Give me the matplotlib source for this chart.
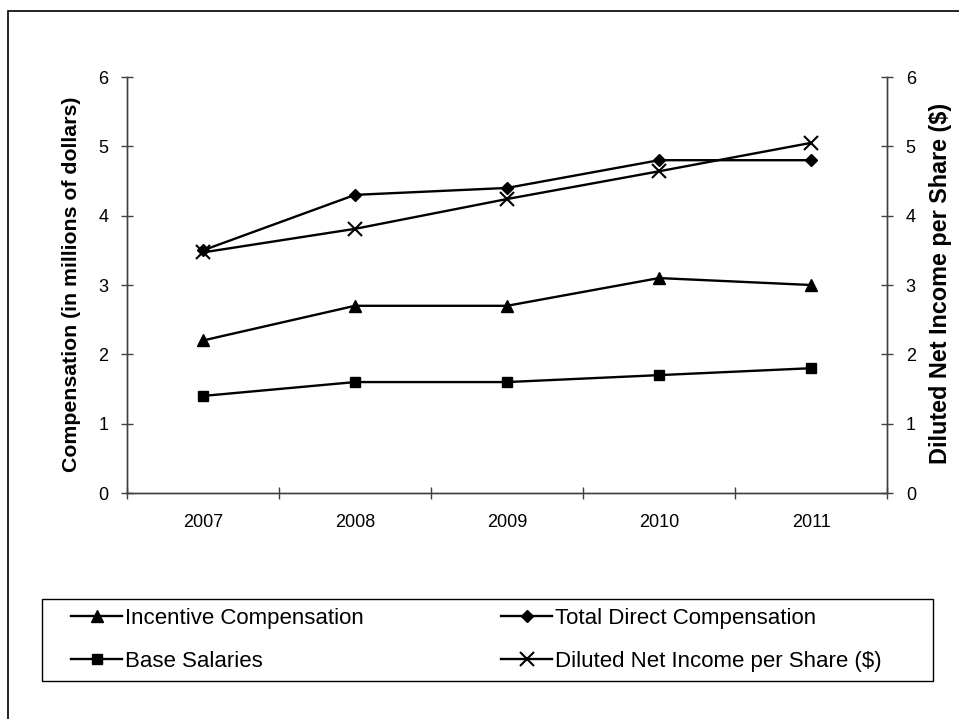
import matplotlib
matplotlib.use("Agg")
import matplotlib.pyplot as plt
from matplotlib.lines import Line2D
from matplotlib.patches import Rectangle

plt.rcParams['font.family'] = ['Liberation Sans', 'DejaVu Sans']

years = ['2007', '2008', '2009', '2010', '2011']
incentive = [2.2, 2.7, 2.7, 3.1, 3.0]
total_direct = [3.5, 4.3, 4.4, 4.8, 4.8]
base_salaries = [1.4, 1.6, 1.6, 1.7, 1.8]
diluted_eps = [3.47, 3.81, 4.24, 4.64, 5.05]

W, H = 959, 719
fig = plt.figure(figsize=(W / 100, H / 100), dpi=100)

# outer chart border (only left/top edges fall inside the image)
fig.patches.append(Rectangle((8 / W, -0.1), 1.2, (H - 11) / H + 0.1,
                             transform=fig.transFigure, fill=False,
                             edgecolor='black', linewidth=1.2))

ax = fig.add_axes([127 / W, (H - 493) / H, 760 / W, 416 / H])
ax2 = ax.twinx()

x = list(range(1, len(years) + 1))
line_kw = dict(color='black', linewidth=1.7)
tri_kw = dict(marker='^', markersize=8.5)
dia_kw = dict(marker='D', markersize=6.5)
sq_kw = dict(marker='s', markersize=7.5)
x_kw = dict(marker='x', markersize=9.5, markeredgewidth=1.5)

ax.plot(x, incentive, **tri_kw, **line_kw)
ax.plot(x, total_direct, **dia_kw, **line_kw)
ax.plot(x, base_salaries, **sq_kw, **line_kw)
ax2.plot(x, diluted_eps, **x_kw, **line_kw)

axis_color = '#404040'
for a in (ax, ax2):
    a.set_xlim(0.5, len(years) + 0.5)
    a.set_ylim(0, 6)
    a.set_yticks(range(0, 7))
    a.spines['top'].set_visible(False)
    for s in ('left', 'right', 'bottom'):
        a.spines[s].set_color(axis_color)
        a.spines[s].set_linewidth(1.0)
    a.tick_params(axis='y', direction='inout', length=9, width=1.0,
                  color=axis_color, labelsize=13, pad=9)

ax.set_xticks(x)
ax.set_xticklabels(years)
ax.set_xticks([i + 0.5 for i in range(0, len(years) + 1)], minor=True)
ax.tick_params(axis='x', which='major', length=0, labelsize=13, pad=15)
ax.tick_params(axis='x', which='minor', direction='inout', length=9,
               width=1.0, color=axis_color)

fig.text(72 / W, (H - 284) / H, 'Compensation (in millions of dollars)',
         rotation=90, ha='center', va='center', fontsize=15.3,
         fontweight='bold')
fig.text(940 / W, (H - 283) / H, 'Diluted Net Income per Share ($)',
         rotation=90, ha='center', va='center', fontsize=16.8,
         fontweight='bold')

# legend box
fig.patches.append(Rectangle((42 / W, (H - 681) / H), 891 / W, 82 / H,
                             transform=fig.transFigure, fill=False,
                             edgecolor='black', linewidth=1.0))

leg_kw = dict(ncol=1, frameon=False, loc='upper left', fontsize=16,
              handlelength=2.3, handletextpad=0.15, labelspacing=1.0,
              borderaxespad=0, borderpad=0)
leg1 = fig.legend([Line2D([], [], **tri_kw, **line_kw),
                   Line2D([], [], **sq_kw, **line_kw)],
                  ['Incentive Compensation', 'Base Salaries'],
                  bbox_to_anchor=(71 / W, (H - 608) / H), **leg_kw)
leg2 = fig.legend([Line2D([], [], **dia_kw, **line_kw),
                   Line2D([], [], **x_kw, **line_kw)],
                  ['Total Direct Compensation',
                   'Diluted Net Income per Share ($)'],
                  bbox_to_anchor=(501 / W, (H - 608) / H), **leg_kw)

fig.savefig('out.png', dpi=100)
